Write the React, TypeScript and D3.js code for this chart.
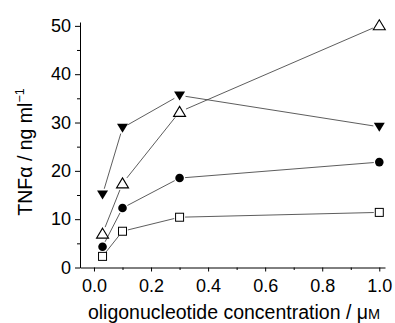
import React from "react";
import * as d3 from "d3";

const width = 395;
const height = 323;

const conc = [0.03, 0.1, 0.3, 1.0];
const downTri = [15.1, 28.9, 35.6, 29.1];
const upTri = [7.0, 17.4, 32.2, 50.1];
const circles = [4.3, 12.3, 18.5, 21.8];
const squares = [2.3, 7.5, 10.4, 11.4];

const xMajor = [0, 0.2, 0.4, 0.6, 0.8, 1.0];
const xMinor = [0.1, 0.3, 0.5, 0.7, 0.9];
const yMajor = [0, 10, 20, 30, 40, 50];
const yMinor = [5, 15, 25, 35, 45];

const xScale = d3.scaleLinear().domain([-0.049, 1.02]).range([80, 385]);
const yScale = d3.scaleLinear().domain([0, 50]).range([267.5, 25.8]);
const font = "'Liberation Sans', Arial, sans-serif";

type Series = { values: number[]; shape: string; gap: number };
const series: Series[] = [
  { values: downTri, shape: "down", gap: 6 },
  { values: upTri, shape: "up", gap: 7 },
  { values: circles, shape: "circle", gap: 5.5 },
  { values: squares, shape: "square", gap: 5.5 },
];

function segments(vals: number[], gap: number) {
  const pts = vals.map((v, i) => [xScale(conc[i]), yScale(v)]);
  const segs = [];
  for (let i = 0; i < pts.length - 1; i++) {
    const [x1, y1] = pts[i];
    const [x2, y2] = pts[i + 1];
    const len = Math.hypot(x2 - x1, y2 - y1);
    if (len <= gap * 2) continue;
    const ux = (x2 - x1) / len;
    const uy = (y2 - y1) / len;
    segs.push([x1 + ux * gap, y1 + uy * gap, x2 - ux * gap, y2 - uy * gap]);
  }
  return segs;
}

function Marker({ x, y, shape }: { x: number; y: number; shape: string }) {
  if (shape === "circle") return <circle cx={x} cy={y} r={4.3} fill="#000" />;
  if (shape === "square")
    return <rect x={x - 4} y={y - 4} width={8} height={8} fill="#fff" stroke="#000" strokeWidth={1} />;
  if (shape === "up")
    return (
      <path
        d={`M${x},${y - 5.5}L${x + 6},${y + 4.5}L${x - 6},${y + 4.5}Z`}
        fill="#fff"
        stroke="#000"
        strokeWidth={1.1}
      />
    );
  return <path d={`M${x - 5.5},${y - 4}L${x + 5.5},${y - 4}L${x},${y + 5}Z`} fill="#000" />;
}

export default function App() {
  const xAxisRef = React.useRef<SVGGElement>(null);
  const xMinorRef = React.useRef<SVGGElement>(null);
  const yAxisRef = React.useRef<SVGGElement>(null);
  const yMinorRef = React.useRef<SVGGElement>(null);

  React.useEffect(() => {
    const xAxis = d3.axisBottom(xScale).tickValues(xMajor).tickFormat(d3.format(".1f")).tickSize(4).tickPadding(8).tickSizeOuter(0);
    const yAxis = d3.axisLeft(yScale.copy().domain([0, 50.8]).range([267.5, 22])).tickValues(yMajor).tickFormat(d3.format("d")).tickSize(5).tickPadding(4).tickSizeOuter(0);
    const xm = d3.axisBottom(xScale).tickValues(xMinor).tickFormat(() => "").tickSize(2.5).tickSizeOuter(0);
    const ym = d3.axisLeft(yScale).tickValues(yMinor).tickFormat(() => "").tickSize(3).tickSizeOuter(0);

    const style = (g: any) => {
      g.selectAll("path,line").attr("stroke", "#000").attr("stroke-width", 1);
      g.selectAll("text").attr("font-family", font).attr("font-size", 18).attr("fill", "#000");
    };
    d3.select(xAxisRef.current).call(xAxis).call(style);
    d3.select(yAxisRef.current).call(yAxis).call(style);
    d3.select(xMinorRef.current).call(xm).call(style).select(".domain").remove();
    d3.select(yMinorRef.current).call(ym).call(style).select(".domain").remove();
  }, []);

  return (
    <svg width={width} height={height} style={{ position: "absolute", left: 0, top: 0 }}>
      <rect width={width} height={height} fill="#fff" />
      <g ref={xAxisRef} transform={`translate(0, 267.5)`} />
      <g ref={xMinorRef} transform={`translate(0, 267.5)`} />
      <g ref={yAxisRef} transform={`translate(80, 0)`} />
      <g ref={yMinorRef} transform={`translate(80, 0)`} />
      {series.map((s, si) => (
        <g key={si}>
          {segments(s.values, s.gap).map((seg, i) => (
            <line key={i} x1={seg[0]} y1={seg[1]} x2={seg[2]} y2={seg[3]} stroke="#333" strokeWidth={0.8} />
          ))}
        </g>
      ))}
      {series.map((s, si) => (
        <g key={"m" + si}>
          {s.values.map((v, i) => (
            <Marker key={i} x={xScale(conc[i])} y={yScale(v)} shape={s.shape} />
          ))}
        </g>
      ))}
      <text x={234} y={319} textAnchor="middle" fontFamily={font} fontSize={19.5} fill="#000">
        oligonucleotide concentration / μ<tspan fontSize={14.5}>M</tspan>
      </text>
      <text
        transform="translate(32, 152) rotate(-90)"
        textAnchor="middle"
        fontFamily={font}
        fontSize={19.5}
        fill="#000"
      >
        TNFα / ng ml<tspan fontSize={12.5} dy={-8}>−1</tspan>
      </text>
    </svg>
  );
}
